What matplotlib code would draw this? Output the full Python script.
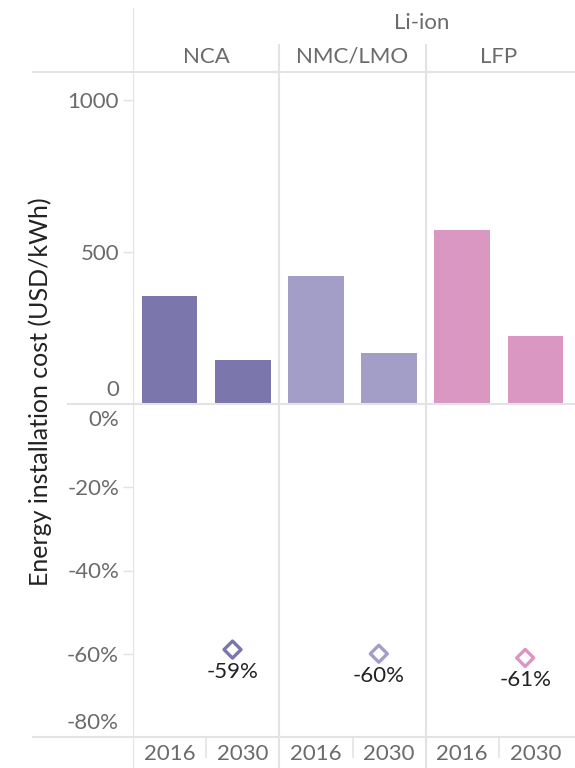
import numpy as np
import matplotlib
matplotlib.use("Agg")
import matplotlib.pyplot as plt
import matplotlib.transforms as mtransforms
from matplotlib.lines import Line2D

# datos
chemistries = ["NCA", "NMC/LMO", "LFP"]
years = ["2016", "2030"]
cost_2016 = [355, 420, 572]
cost_2030 = [145, 168, 223]
reduction = [-59, -60, -61]
colors = ["#7b76ab", "#a39ec7", "#d997c2"]

plt.rcParams['font.family'] = ['Lato', 'DejaVu Sans']
gray = "#6b6b6b"
line_c = "#e3e3e3"
fs = 16

W, H = 575, 768
fig = plt.figure(figsize=(W / 100, H / 100), dpi=100)

def fx(px):
    return px / W

def fy(py):
    return 1 - py / H

x0, x1 = 133, 572
y_head, y_mid, y_bot = 72, 404, 737

ax_head = fig.add_axes([fx(x0), fy(y_head), fx(x1 - x0), fy(8) - fy(y_head)])
ax_top = fig.add_axes([fx(x0), fy(y_mid), fx(x1 - x0), fy(y_head) - fy(y_mid)])
ax_bot = fig.add_axes([fx(x0), fy(y_bot), fx(x1 - x0), fy(y_mid) - fy(y_bot)])
ax_year = fig.add_axes([fx(x0), 0, fx(x1 - x0), fy(y_bot)])

n = len(chemistries)
for ax in (ax_head, ax_top, ax_bot, ax_year):
    ax.set_xlim(0, n)
    for s in ax.spines.values():
        s.set_visible(False)
    ax.set_xticks([])

# cabecera
ax_head.set_ylim(0, 1)
ax_head.set_yticks([])
ax_head.axvline(0, color=line_c, lw=1.5)
for i in range(1, n):
    ax_head.axvline(i, ymin=0, ymax=0.42, color=line_c, lw=1.5)
ax_head.text(1.97, 0.77, "Li-ion", ha="center", va="center", fontsize=fs, color=gray)
for i, name in enumerate(chemistries):
    ax_head.text(i + 0.5, 0.24, name, ha="center", va="center", fontsize=fs, color=gray)

# barras
xpos = np.arange(n)
bw = 0.38
ax_top.bar(xpos + 0.25, cost_2016, width=bw, color=colors, zorder=2)
ax_top.bar(xpos + 0.75, cost_2030, width=bw, color=colors, zorder=2)
ax_top.set_ylim(0, 1092)
ax_top.set_yticks([0, 500, 1000], ["0", "500", "1000"])

# diamantes
ax_bot.set_ylim(-80, 0)
ax_bot.scatter(xpos + 0.68, reduction, marker="D", s=75, facecolors="white",
               edgecolors=colors, linewidths=2.4, zorder=3)
for i, r in enumerate(reduction):
    ax_bot.annotate(f"{r}%", (i + 0.68, r), xytext=(0, -9), textcoords="offset points",
                    ha="center", va="top", fontsize=fs, color="#222222")
ax_bot.set_yticks([0, -20, -40, -60, -80], ["0%", "-20%", "-40%", "-60%", "-80%"])

for ax in (ax_top, ax_bot):
    ax.axvline(0, color=line_c, lw=1.5, zorder=1)
    for i in range(1, n):
        ax.axvline(i, color=line_c, lw=1.5, zorder=1)
    ax.tick_params(axis="y", length=7, width=1, color=line_c, labelcolor=gray,
                   labelsize=fs, pad=3)

# etiquetas de los extremos hacia dentro
def shift(label, dy):
    label.set_transform(label.get_transform() +
                        mtransforms.ScaledTranslation(0, dy / 100, fig.dpi_scale_trans))

lab = ax_top.get_yticklabels()
shift(lab[0], 16)
ax_top.yaxis.get_major_ticks()[0].tick1line.set_visible(False)
labs = ax_bot.get_yticklabels()
shift(labs[0], -14)
shift(labs[-1], 16)
ax_bot.yaxis.get_major_ticks()[0].tick1line.set_visible(False)
ax_bot.yaxis.get_major_ticks()[-1].tick1line.set_visible(False)

# años
ax_year.set_ylim(0, 1)
ax_year.set_yticks([])
ax_year.axvline(0, color=line_c, lw=1.5)
for i in range(1, n):
    ax_year.axvline(i, color=line_c, lw=1.5)
for i in range(n):
    ax_year.axvline(i + 0.5, ymin=0.35, ymax=1, color=line_c, lw=1.2)
    for j, yr in enumerate(years):
        ax_year.text(i + 0.25 + 0.5 * j, 0.45, yr, ha="center", va="center",
                     fontsize=fs, color=gray)

# lineas horizontales
for py, start in ((y_head, 33), (y_mid, 68), (y_bot, 33)):
    fig.add_artist(Line2D([fx(start), 1], [fy(py), fy(py)], transform=fig.transFigure,
                          color=line_c, lw=1.5))

fig.text(fx(40), fy(392), "Energy installation cost (USD/kWh)", rotation=90,
         ha="center", va="center", fontsize=18, color="#222222")

fig.savefig("out.png", dpi=100)
